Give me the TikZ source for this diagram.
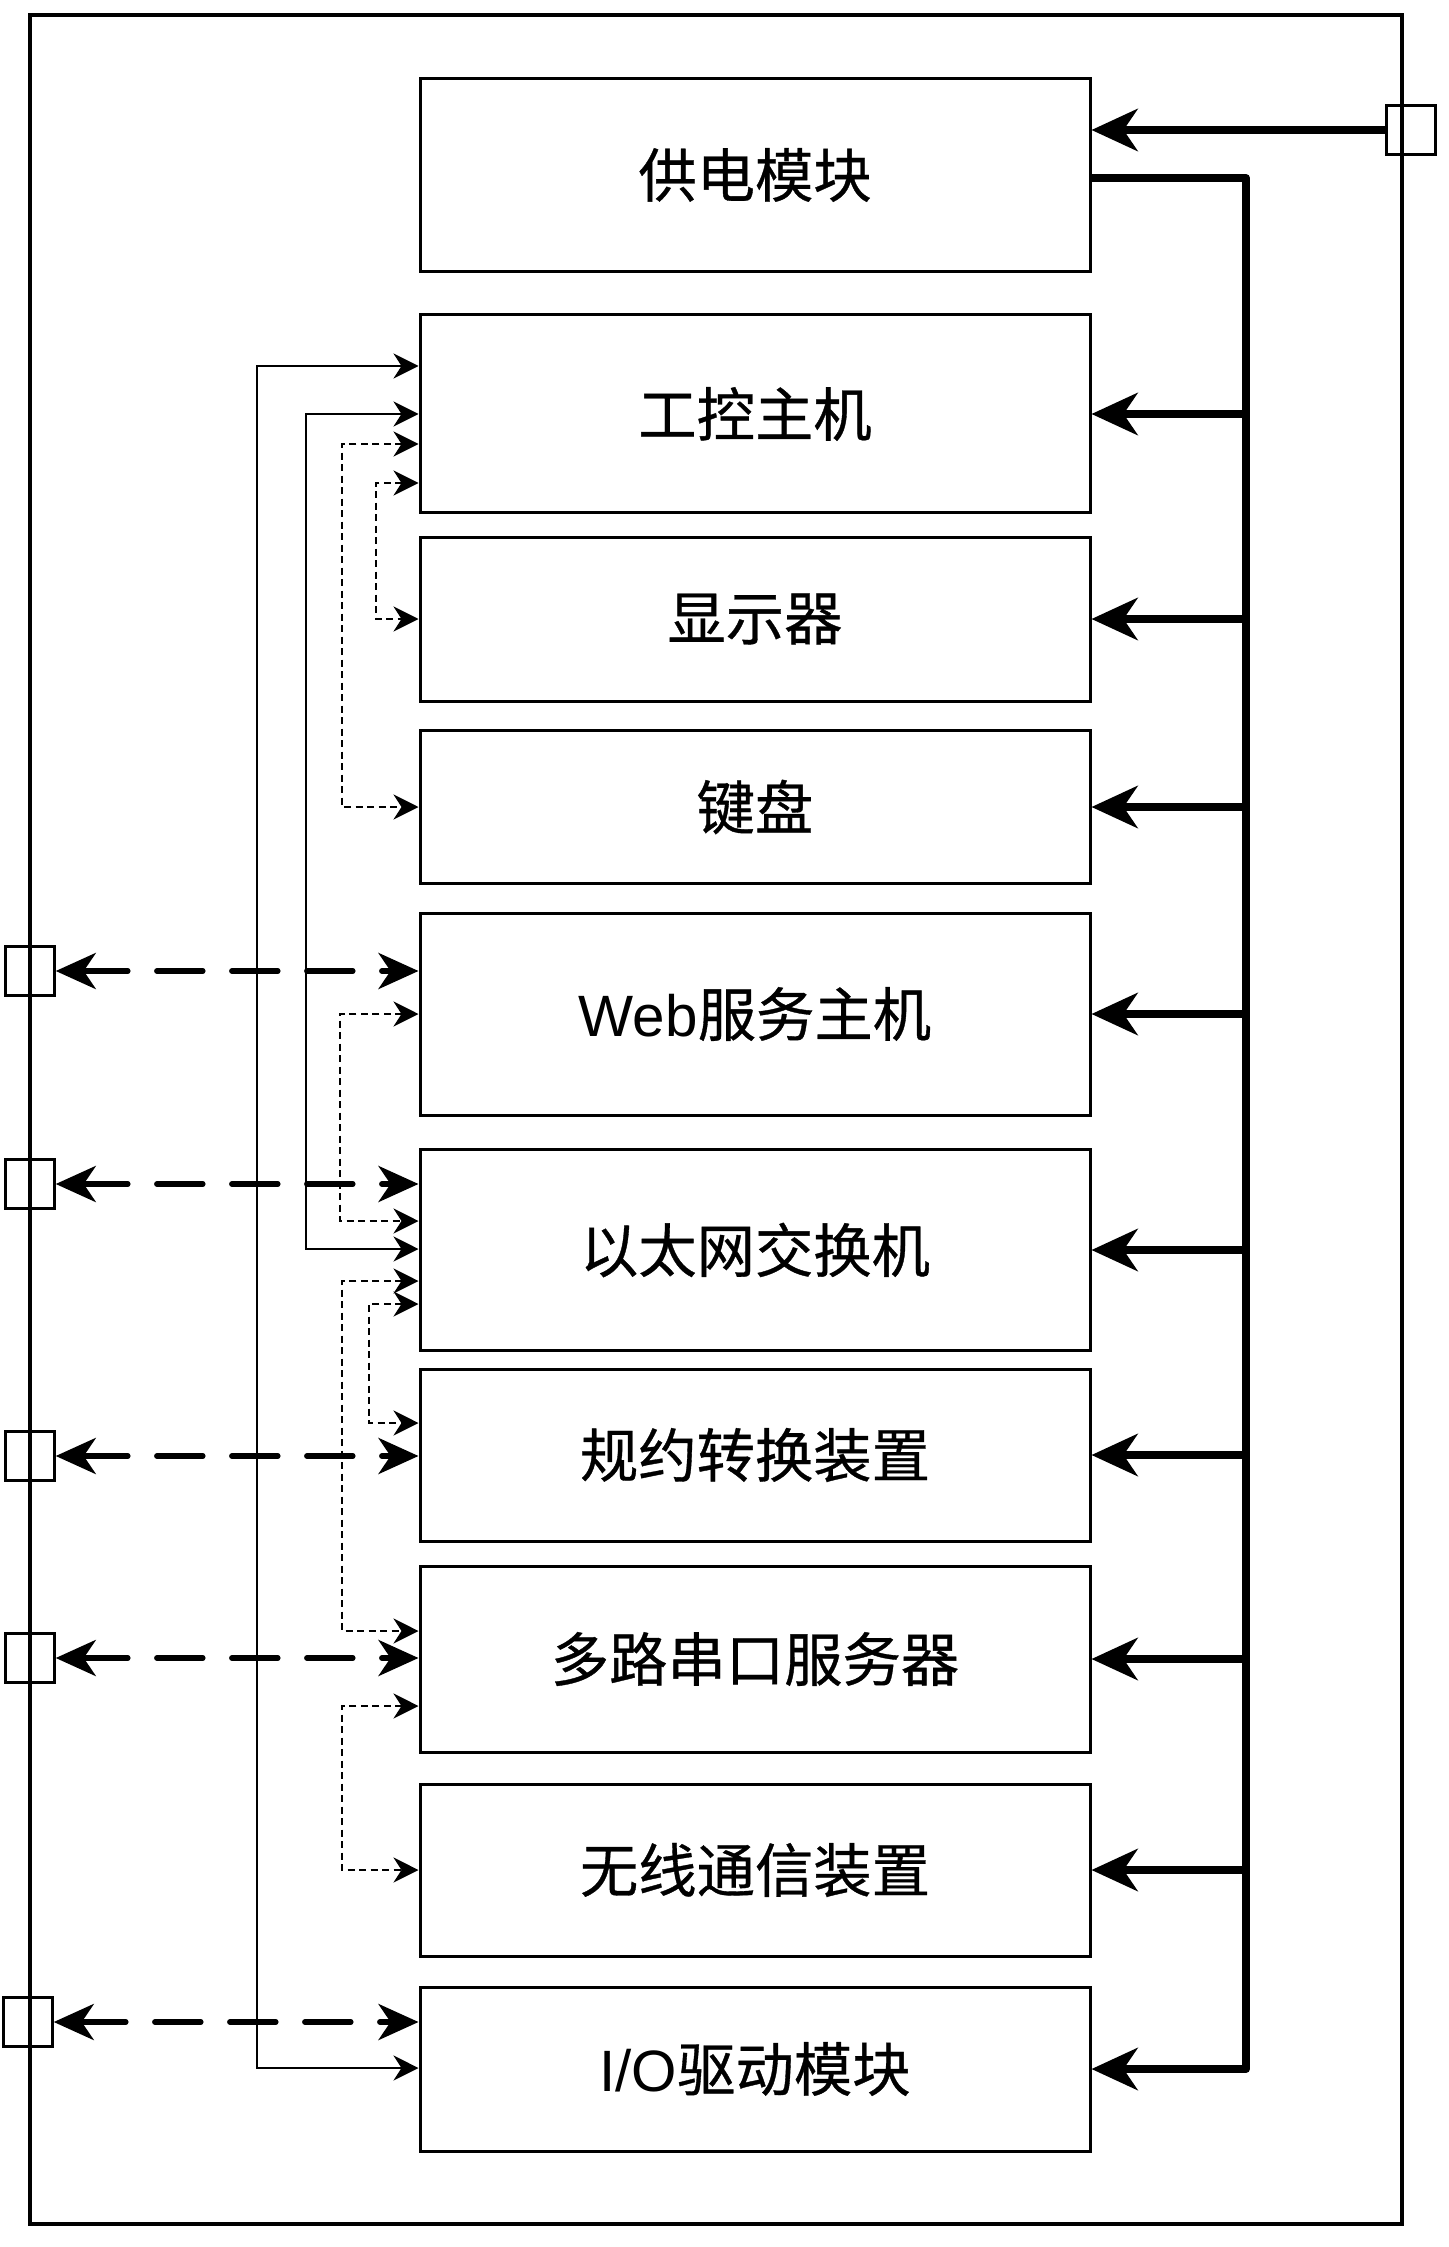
\documentclass[tikz,border=0pt]{standalone}
\usepackage{fontspec}
\setmainfont{Liberation Sans}
\newfontfamily\cjk[FakeBold=0.6]{Noto Sans CJK SC}
\usetikzlibrary{arrows.meta,positioning}

\begin{document}
\begin{tikzpicture}[x=0.1mm,y=-0.1mm,
    blk/.style={draw,line width=0.3mm,minimum width=67mm,font=\cjk\fontsize{16.6pt}{18pt}\selectfont},
    port/.style={draw,line width=0.25mm,minimum width=4.9mm,minimum height=4.9mm,inner sep=0pt},
    bus/.style={line width=0.8mm,-{Stealth[length=4.6mm,width=4.2mm,inset=1.4mm]}},
    net/.style={line width=0.55mm,line cap=round,dash pattern=on 4.6mm off 2.9mm,
        {Stealth[length=4mm,width=3.6mm,inset=1.2mm]}-{Stealth[length=4mm,width=3.6mm,inset=1.2mm]}},
    ctl/.style={line width=0.25mm,{Stealth[length=2.5mm,width=2.5mm,inset=0.8mm]}-{Stealth[length=2.5mm,width=2.5mm,inset=0.8mm]}},
    sig/.style={ctl,dash pattern=on 0.7mm off 0.45mm}]
    \useasboundingbox (0,0) rectangle (1448,2247);
    \draw[line width=0.4mm] (30,15) rectangle (1402,2224);

    % modules
    \node[blk,minimum height=19.3mm] (power) at (755,175) {供电模块};
    \node[blk,minimum height=19.8mm] (ipc) at (755,414) {工控主机};
    \node[blk,minimum height=16.4mm] (disp) at (755,619) {显示器};
    \node[blk,minimum height=15.3mm] (kbd) at (755,807) {键盘};
    \node[blk,minimum height=20.2mm] (web) at (755,1014) {{\rmfamily Web}服务主机};
    \node[blk,minimum height=20.1mm] (eth) at (755,1250) {以太网交换机};
    \node[blk,minimum height=17.2mm] (prot) at (755,1455) {规约转换装置};
    \node[blk,minimum height=18.6mm] (mux) at (755,1659) {多路串口服务器};
    \node[blk,minimum height=17.2mm] (wlan) at (755,1870) {无线通信装置};
    \node[blk,minimum height=16.4mm] (io) at (755,2069) {{\rmfamily I/O}驱动模块};

    % ports on the case
    \node[port] (pin) at (1411,130) {};
    \node[port] (p1) at (30,971) {};
    \node[port] (p2) at (30,1184) {};
    \node[port] (p3) at (30,1456) {};
    \node[port] (p4) at (30,1658) {};
    \node[port] (p5) at (28,2022) {};

    % power bus
    \coordinate (busx) at (1246,0);
    \draw[bus] (pin.west) -- (pin.west -| power.east);
    \draw[bus,line join=round] (power.east |- 0,178) -| (io.east -| busx) -- (io.east);
    \foreach \b in {ipc,disp,kbd,web,eth,prot,mux,wlan}
        \draw[bus] (\b.east -| busx) -- (\b.east);

    % outside links
    \foreach \p/\b in {p1/web,p2/eth,p3/prot,p4/mux,p5/io}
        \draw[net] (\p.east) -- (\p.east -| \b.west);

    % inside links
    \draw[ctl] (ipc.west |- 0,366) -- (257,366) |- (io.west |- 0,2068);
    \draw[ctl] (ipc.west) -- (306,414) |- (eth.west |- 0,1249);
    \draw[sig] (ipc.west |- 0,483) -- (376,483) |- (disp.west);
    \draw[sig] (ipc.west |- 0,444) -- (342,444) |- (kbd.west);
    \draw[sig] (web.west) -- (340,1014) |- (eth.west |- 0,1221);
    \draw[sig] (eth.west |- 0,1281) -- (342,1281) |- (mux.west |- 0,1631);
    \draw[sig] (eth.west |- 0,1304) -- (369,1304) |- (prot.west |- 0,1423);
    \draw[sig] (mux.west |- 0,1706) -- (342,1706) |- (wlan.west);
\end{tikzpicture}
\end{document}
